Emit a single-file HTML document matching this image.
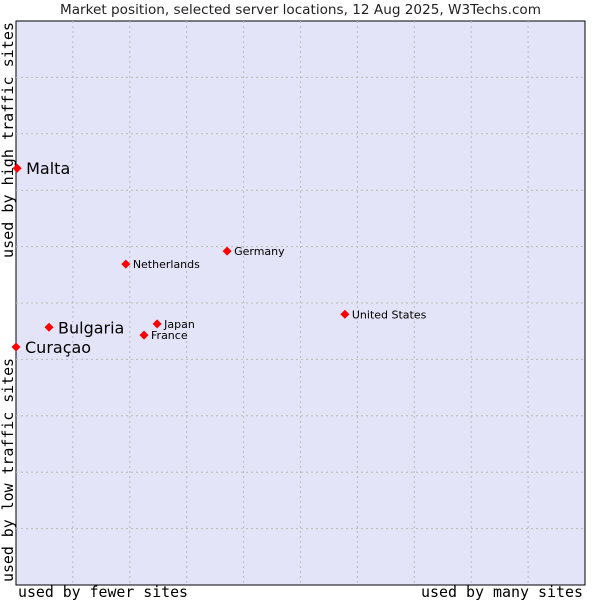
<!DOCTYPE html>
<html><head><meta charset="utf-8"><style>body{margin:0;background:#fff}svg{display:block}</style></head>
<body>
<svg id="chart" width="600" height="600" xmlns="http://www.w3.org/2000/svg">
<text x="60" y="14" textLength="481" lengthAdjust="spacingAndGlyphs" font-family="DejaVu Sans, sans-serif" font-size="13" fill="#222">Market position, selected server locations, 12 Aug 2025, W3Techs.com</text>
<rect x="16" y="21" width="569" height="564" fill="#e4e4f8" stroke="#000" stroke-width="1"/>
<g id="grid"></g>
<g id="points"></g>
<text x="18" y="597" textLength="170" lengthAdjust="spacingAndGlyphs" font-family="DejaVu Sans Mono, monospace" font-size="15" fill="#000">used by fewer sites</text>
<text x="421" y="597" textLength="162" lengthAdjust="spacingAndGlyphs" font-family="DejaVu Sans Mono, monospace" font-size="15" fill="#000">used by many sites</text>
<text transform="translate(13,258) rotate(-90)" textLength="236" lengthAdjust="spacingAndGlyphs" font-family="DejaVu Sans Mono, monospace" font-size="15" fill="#000">used by high traffic sites</text>
<text transform="translate(13,582) rotate(-90)" textLength="224" lengthAdjust="spacingAndGlyphs" font-family="DejaVu Sans Mono, monospace" font-size="15" fill="#000">used by low traffic sites</text>
</svg>
<script>
const names = ["Malta","Bulgaria","Curaçao","Netherlands","Germany","Japan","France","United States"];
const xValues = [0.2,5.8,0,19.3,37.1,24.8,22.5,57.8];
const yValues = [73.9,45.7,42.2,56.9,59.2,46.3,44.3,48.0];
const bigLabel = [true,true,true,false,false,false,false,false];
const NS="http://www.w3.org/2000/svg";
const L=16,R=585,T=21,B=585;
const xs=v=>L+v/100*(R-L);
const ys=v=>B-v/100*(B-T);
const grid=document.getElementById('grid');
for(let i=1;i<10;i++){
  const v=document.createElementNS(NS,'line');
  v.setAttribute('x1',xs(i*10));v.setAttribute('x2',xs(i*10));v.setAttribute('y1',T);v.setAttribute('y2',B);
  v.setAttribute('stroke','#bbb');v.setAttribute('stroke-dasharray','2,3');
  
  
  grid.appendChild(v);
  const h=document.createElementNS(NS,'line');
  h.setAttribute('y1',ys(i*10));h.setAttribute('y2',ys(i*10));h.setAttribute('x1',L);h.setAttribute('x2',R);
  h.setAttribute('stroke','#bbb');h.setAttribute('stroke-dasharray','2,3');
  
  
  grid.appendChild(h);
}
const pts=document.getElementById('points');
names.forEach((n,i)=>{
  const x=xs(xValues[i]),y=ys(yValues[i]);
  const d=document.createElementNS(NS,'polygon');
  d.setAttribute('points',`${x},${y-4.5} ${x+4.5},${y} ${x},${y+4.5} ${x-4.5},${y}`);
  d.setAttribute('fill','#f00');
  
  
  pts.appendChild(d);
  const t=document.createElementNS(NS,'text');
  const big=bigLabel[i];
  t.setAttribute('x',x+(big?9:7));
  t.setAttribute('y',y+(big?6:4));
  t.setAttribute('font-family','DejaVu Sans, sans-serif');
  t.setAttribute('font-size',big?16:11);
  t.setAttribute('fill','#000');
  t.textContent=n;
  
  
  pts.appendChild(t);
});
</script>
</body></html>
